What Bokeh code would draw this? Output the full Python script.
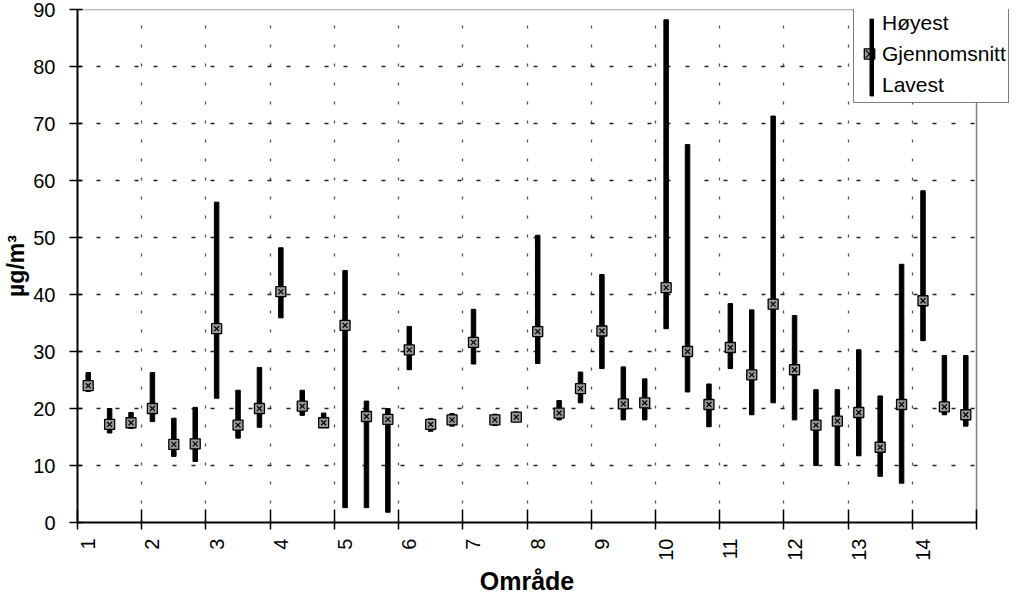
import numpy as np
from bokeh.plotting import figure
from bokeh.models import (FixedTicker, Legend, LegendItem, BoxAnnotation,
                          Range1d, ColumnDataSource, Title)
from bokeh.core.properties import value
from bokeh.embed import file_html
from bokeh.resources import INLINE

# ---------------- data ----------------
areas = [str(i) for i in range(1, 15)]          # Område 1..14
stations_per_area = 3
high = [26.3, 20.0, 19.3, 26.3, 18.3, 20.2, 56.2, 23.2, 27.2, 48.2, 23.2, 19.2,
        44.2, 21.3, 20.0, 34.4, 18.2, 19.1, 37.4, 19.0, 19.4, 50.4, 21.4, 26.4,
        43.5, 27.3, 25.2, 88.2, 66.3, 24.3, 38.4, 37.3, 71.3, 36.3, 23.3, 23.3,
        30.3, 22.2, 45.3, 58.2, 29.3, 29.3]
avg = [24.0, 17.2, 17.5, 20.0, 13.7, 13.8, 34.0, 17.1, 20.0, 40.5, 20.4, 17.5,
       34.6, 18.6, 18.1, 30.3, 17.2, 18.0, 31.6, 18.0, 18.5, 33.5, 19.2, 23.5,
       33.6, 20.8, 21.0, 41.2, 30.0, 20.7, 30.7, 25.9, 38.3, 26.8, 17.1, 17.8,
       19.3, 13.2, 20.7, 38.9, 20.3, 18.9]
low = [23.0, 15.7, 16.5, 17.7, 11.6, 10.7, 21.8, 14.8, 16.7, 35.9, 18.8, 16.8,
       2.6, 2.6, 1.8, 26.8, 16.0, 16.9, 27.8, 17.0, 17.7, 27.9, 18.0, 21.0,
       27.0, 18.0, 18.0, 34.0, 22.9, 16.8, 27.0, 18.9, 21.0, 18.0, 10.0, 10.0,
       11.7, 8.1, 6.9, 31.9, 18.9, 16.9]
y_ticks = [0, 10, 20, 30, 40, 50, 60, 70, 80, 90]
legend_labels = ["Høyest", "Gjennomsnitt", "Lavest"]
x_title = "Område"
y_title = "µg/m³"

n = len(high)
xs = list(range(1, n + 1))
src = ColumnDataSource(dict(x=xs, high=high, avg=avg, low=low))

label_pos = [float(1 + i * stations_per_area) for i in range(len(areas))]
bounds = [0.5 + i * stations_per_area for i in range(len(areas) + 1)]
x_lo, x_hi = bounds[0], bounds[-1]
y_lo, y_hi = y_ticks[0], y_ticks[-1]

FONT = "Liberation Sans"
W, H = 1010, 595
LEFT, TOP, BOTTOM = 77, 9, 69
plot_px = 899                 # width of the area that holds the stations
frame_px = W - LEFT           # frame runs to the right edge (room for legend)
x_end = x_lo + (x_hi - x_lo) * frame_px / plot_px

p = figure(width=W, height=H, output_backend="svg", toolbar_location=None,
           title=None,
           x_range=Range1d(x_lo, x_end), y_range=Range1d(y_lo, y_hi),
           min_border_left=LEFT, min_border_right=0, min_border_top=TOP,
           min_border_bottom=BOTTOM)
p.background_fill_color = "white"
p.border_fill_color = "white"
p.outline_line_color = None

# grids
p.xgrid.ticker = FixedTicker(ticks=[], minor_ticks=bounds[1:-1])
p.xgrid.grid_line_color = None
p.xgrid.minor_grid_line_color = "#555555"
p.xgrid.minor_grid_line_dash = "3 16"
p.xgrid.minor_grid_line_width = 1.3
p.ygrid.ticker = FixedTicker(ticks=y_ticks[1:-1])
p.ygrid.grid_line_color = "#222222"
p.ygrid.grid_line_dash = "4 15"
p.ygrid.grid_line_width = 1.3

# blank the strip right of the plot area
whiteout = BoxAnnotation(left=x_hi, fill_color="white", fill_alpha=1.0,
                         line_color=None, level="underlay")
p.add_layout(whiteout)

# dotted top and right border of the plot area
p.segment(x0=[x_lo, x_hi], y0=[y_hi, y_lo], x1=[x_hi, x_hi], y1=[y_hi, y_hi],
          line_color="black", line_dash="1 1", line_width=1.5)

# x axis
xa = p.xaxis[0]
xa.bounds = (x_lo, x_hi)
xa.ticker = FixedTicker(ticks=label_pos, minor_ticks=bounds)
xa.major_label_overrides = {pos: lab for pos, lab in zip(label_pos, areas)}
xa.major_label_orientation = np.pi / 2
xa.major_tick_line_color = None
xa.major_tick_out = 7
xa.major_tick_in = 0
xa.minor_tick_in = 13
xa.minor_tick_out = 7
xa.minor_tick_line_color = "black"
xa.minor_tick_line_width = 1.5
xa.axis_line_color = "black"
xa.axis_line_width = 2
xa.major_label_standoff = 9
xa.major_label_text_font = FONT
xa.major_label_text_font_size = "20px"
xa.major_label_text_color = "black"

# x title centred under the plot area (not under the wider frame)
title_fs = 25
title_w = 3.78 * title_fs            # approx. width of the bold text
xt = Title(text=x_title, align="left", offset=plot_px / 2 - title_w / 2,
           text_font=FONT, text_font_size=f"{title_fs}px",
           text_font_style="bold", text_color="black", standoff=2)
p.add_layout(xt, "below")

# y axis
ya = p.yaxis[0]
ya.ticker = FixedTicker(ticks=y_ticks)
ya.major_tick_out = 8
ya.major_tick_in = 5
ya.major_tick_line_color = "black"
ya.major_tick_line_width = 1.5
ya.minor_tick_line_color = None
ya.axis_line_color = "black"
ya.axis_line_width = 2
ya.major_label_standoff = 14
ya.major_label_text_font = FONT
ya.major_label_text_font_size = "20px"
ya.major_label_text_color = "black"
ya.axis_label = y_title
ya.axis_label_text_font = FONT
ya.axis_label_text_font_style = "bold"
ya.axis_label_text_font_size = "23px"
ya.axis_label_text_color = "black"
ya.axis_label_standoff = 1

# data glyphs
bars = p.vbar(x="x", bottom="low", top="high", width=0.21, source=src,
              fill_color="black", line_color="black")
sq = p.scatter(x="x", y="avg", source=src, marker="square", size=10,
               fill_color="#9a9a9a", line_color="black", line_width=1.3)
xm = p.scatter(x="x", y="avg", source=src, marker="x", size=7,
               line_color="black", line_width=1.2)
ghost = p.scatter(x=[], y=[], size=1, fill_alpha=0, line_alpha=0)

# legend (box with labels and the average marker)
LEG_X, LEG_Y = 776, 419
legend = Legend(items=[LegendItem(label=value(legend_labels[0]), renderers=[ghost]),
                       LegendItem(label=value(legend_labels[1]), renderers=[sq, xm]),
                       LegendItem(label=value(legend_labels[2]), renderers=[ghost])],
                location=(LEG_X, LEG_Y), margin=0, padding=2, spacing=0,
                glyph_width=26, glyph_height=31, label_height=31,
                label_standoff=0, label_text_font=FONT,
                label_text_font_size="21px", label_text_color="black",
                border_line_color="black", border_line_width=1.5,
                background_fill_color="white", background_fill_alpha=1.0)
p.add_layout(legend)

# the continuous high-low key bar through the three legend rows
bar_legend = Legend(items=[LegendItem(label=value(" "), renderers=[bars])],
                    location=(LEG_X + 2 + 13 + 3 - 2.5, LEG_Y - 1.5),
                    margin=0, padding=0, spacing=0,
                    glyph_width=5, glyph_height=96, label_height=10,
                    label_standoff=0, label_text_font_size="2px",
                    border_line_color=None, background_fill_alpha=0.0)
p.add_layout(bar_legend)

open("out.html", "w").write(file_html(p, INLINE))
